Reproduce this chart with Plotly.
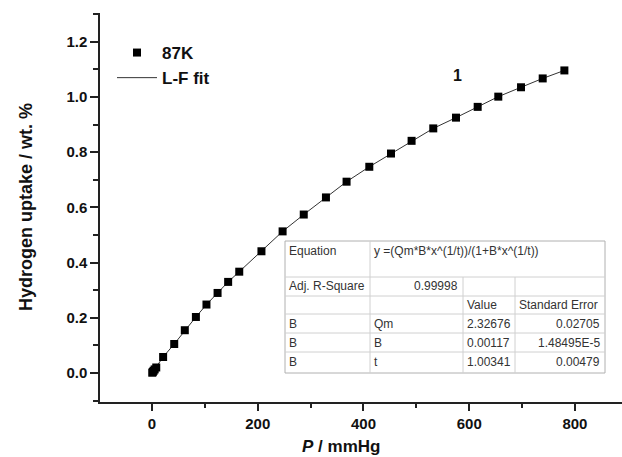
import plotly.graph_objects as go

# ---- data ----
pressure = [0.5, 1.5, 3, 5, 8, 21, 42, 62, 83, 103, 124, 144, 165, 207, 247, 287,
            329, 368, 411, 452, 491, 532, 575, 616, 655, 698, 739, 780]
uptake = [0.001, 0.004, 0.008, 0.013, 0.020, 0.058, 0.105, 0.155, 0.203, 0.248, 0.290,
          0.330, 0.367, 0.441, 0.513, 0.574, 0.636, 0.693, 0.747, 0.795, 0.841, 0.886,
          0.925, 0.964, 1.001, 1.035, 1.067, 1.096]

x_ticks = [0, 200, 400, 600, 800]
y_ticks = [0.0, 0.2, 0.4, 0.6, 0.8, 1.0, 1.2]

table_rows = [
    ["Equation", "y =(Qm*B*x^(1/t))/(1+B*x^(1/t))", "", ""],
    ["Adj. R-Square", "0.99998", "", ""],
    ["", "", "Value", "Standard Error"],
    ["B", "Qm", "2.32676", "0.02705"],
    ["B", "B", "0.00117", "1.48495E-5"],
    ["B", "t", "1.00341", "0.00479"],
]

W, H = 622, 457
L, R, T, B = 100, 0, 13, 55
PW, PH = W - L - R, H - T - B


def px(x):
    return (x - L) / PW


def py(y):
    return (H - B - y) / PH


fig = go.Figure()
fig.add_trace(go.Scatter(x=pressure, y=uptake, mode="lines", name="L-F fit",
                         line=dict(color="#333333", width=1), legendrank=2,
                         legendgroup="b"))
fig.add_trace(go.Scatter(x=pressure, y=uptake, mode="markers", name="87K",
                         marker=dict(symbol="square", size=8, color="black"),
                         legendrank=1, legendgroup="a"))

axis_font = dict(family="Arial, Liberation Sans", size=15, color="#111111", weight="bold")
fig.update_xaxes(range=[-98.4, 889], tickvals=x_ticks,
                 ticktext=["<b>%d</b>" % v for v in x_ticks],
                 showgrid=False, zeroline=False, showline=True, linecolor="#222222",
                 linewidth=1.5, ticks="outside", ticklen=7, tickwidth=1.5,
                 tickcolor="#222222", tickfont=axis_font,
                 minor=dict(dtick=100, tick0=0, ticks="outside", ticklen=4,
                            tickwidth=1.5, tickcolor="#222222"))
fig.update_yaxes(range=[-0.105, 1.304], tickvals=y_ticks,
                 ticktext=["<b>%.1f</b>" % v for v in y_ticks],
                 showgrid=False, zeroline=False, showline=True, linecolor="#222222",
                 linewidth=1.5, ticks="outside", ticklen=8, tickwidth=1.5,
                 tickcolor="#222222", tickfont=axis_font,
                 minor=dict(dtick=0.1, tick0=0, ticks="outside", ticklen=5,
                            tickwidth=1.5, tickcolor="#222222"))

shapes = []
annotations = []

# axis titles
annotations.append(dict(x=px(341), y=py(446), xref="paper", yref="paper",
                        text="<b><i>P</i> / mmHg</b>", showarrow=False,
                        xanchor="center", yanchor="middle",
                        font=dict(family="Arial, Liberation Sans", size=17, color="#111111")))
annotations.append(dict(x=px(26), y=py(207), xref="paper", yref="paper",
                        text="<b>Hydrogen uptake / wt. %</b>", showarrow=False, textangle=-90,
                        xanchor="center", yanchor="middle",
                        font=dict(family="Arial, Liberation Sans", size=18, color="#111111")))
annotations.append(dict(x=px(457), y=py(75), xref="paper", yref="paper",
                        text="<b>1</b>", showarrow=False, xanchor="center", yanchor="middle",
                        font=dict(family="Arial, Liberation Sans", size=16, color="#111111")))

# table
tx0, tx1 = 285, 605
cols = [285, 370, 463, 515, 605]
rows = [241, 277, 296, 314, 333, 352, 373]
shapes.append(dict(type="rect", xref="paper", yref="paper", x0=px(tx0), x1=px(tx1),
                   y0=py(rows[-1]), y1=py(rows[0]), fillcolor="white",
                   line=dict(color="#b0b0b0", width=1), layer="above"))
for r in rows[1:-1]:
    shapes.append(dict(type="line", xref="paper", yref="paper", x0=px(tx0), x1=px(tx1),
                       y0=py(r), y1=py(r), line=dict(color="#d0d0d0", width=1)))
shapes.append(dict(type="line", xref="paper", yref="paper", x0=px(cols[1]), x1=px(cols[1]),
                   y0=py(rows[0]), y1=py(rows[-1]), line=dict(color="#d0d0d0", width=1)))
for c in cols[2:4]:
    shapes.append(dict(type="line", xref="paper", yref="paper", x0=px(c), x1=px(c),
                       y0=py(rows[1]), y1=py(rows[-1]), line=dict(color="#d0d0d0", width=1)))

tfont = dict(family="Arial, Liberation Sans", size=12, color="#333333")
row_y = [251, 286, 305, 324, 343, 362]
for i, row in enumerate(table_rows):
    for j, txt in enumerate(row):
        if not txt:
            continue
        right = (j == 3 and i != 2) or (i == 1 and j == 1)
        if right:
            xpos = cols[j + 1] - 3
            anchor = "right"
        else:
            xpos = cols[j] + 2
            anchor = "left"
        annotations.append(dict(x=px(xpos), y=py(row_y[i]), xref="paper", yref="paper",
                                text=txt, showarrow=False, xanchor=anchor, yanchor="middle",
                                font=tfont))

fig.update_layout(
    width=W, height=H,
    margin=dict(l=L, r=R, t=T, b=B),
    paper_bgcolor="white", plot_bgcolor="white",
    shapes=shapes, annotations=annotations,
    showlegend=True,
    legend=dict(x=px(112), y=py(35), xanchor="left", yanchor="top",
                font=dict(family="Arial, Liberation Sans", size=17, color="#111111",
                          weight="bold"),
                bgcolor="rgba(0,0,0,0)", tracegroupgap=0, itemwidth=40),
)

fig.write_html("out.html")
